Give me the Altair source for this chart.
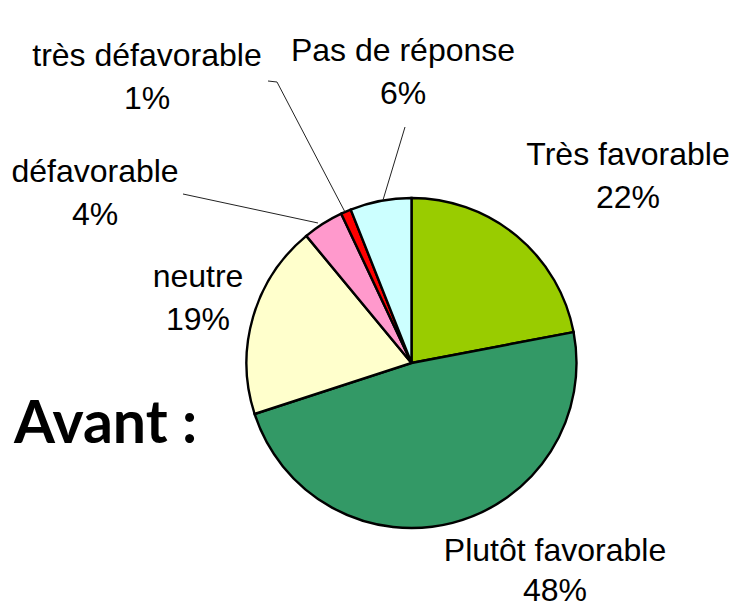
import altair as alt
import pandas as pd

# Data
categories = ["Très favorable", "Plutôt favorable", "neutre", "défavorable", "très défavorable", "Pas de réponse"]
values = [22, 48, 19, 4, 1, 6]
colors = ["#99CC00", "#339966", "#FFFFCC", "#FF99CC", "#FF0000", "#CCFFFF"]

# Layout (pixel positions of label anchors, chart coordinates)
label_x = [620, 547, 190, 87, 139, 395]
label_y = [157, 553, 279, 174, 58, 53]
line_height = [43, 40, 43, 43, 43, 43]

# Leader line polylines (chart coordinates)
leader_cat = ["très défavorable"] * 3 + ["Pas de réponse"] * 3 + ["défavorable"] * 2
leader_ord = [0, 1, 2, 0, 1, 2, 0, 1]
leader_x = [337, 269, 260, 375, 394, 397, 310, 175]
leader_y = [204, 74, 73, 192, 129, 119, 215, 186]

W, H = 721, 604
CX, CY, R = 403.5, 355, 165

pie_df = pd.DataFrame({
    "cat": categories,
    "val": values,
    "idx": list(range(len(categories))),
})

lab_df = pd.DataFrame({
    "cat": categories,
    "name": categories,
    "pct": [f"{v}%" for v in values],
    "lx": label_x,
    "ly": label_y,
    "ly2": [y + lh for y, lh in zip(label_y, line_height)],
})

lead_df = pd.DataFrame({
    "cat": leader_cat,
    "o": leader_ord,
    "x": leader_x,
    "y": leader_y,
})

pie = alt.Chart(pie_df).mark_arc(
    outerRadius=R, stroke="black", strokeWidth=2.4
).encode(
    theta=alt.Theta("val:Q", stack=True),
    order=alt.Order("idx:Q"),
    color=alt.Color("cat:N", scale=alt.Scale(domain=categories, range=colors), legend=None),
    x=alt.value(CX),
    y=alt.value(CY),
)

leaders = alt.Chart(lead_df).mark_line(color="#222222", strokeWidth=1).encode(
    x=alt.X("x:Q", scale=None, axis=None),
    y=alt.Y("y:Q", scale=None, axis=None),
    detail="cat:N",
    order="o:Q",
)

text_props = dict(font="Liberation Sans", fontSize=32, align="center",
                  baseline="alphabetic", color="black")

names = alt.Chart(lab_df).mark_text(**text_props).encode(
    x=alt.X("lx:Q", scale=None, axis=None),
    y=alt.Y("ly:Q", scale=None, axis=None),
    text="name:N",
)
pcts = alt.Chart(lab_df).mark_text(**text_props).encode(
    x=alt.X("lx:Q", scale=None, axis=None),
    y=alt.Y("ly2:Q", scale=None, axis=None),
    text="pct:N",
)

title_df = pd.DataFrame({"t": ["Avant :"]})
avant = alt.Chart(title_df).mark_text(
    font="Lato", fontSize=59, fontWeight="bold", align="left", baseline="alphabetic", color="black"
).encode(
    x=alt.value(6),
    y=alt.value(435),
    text="t:N",
)

chart = alt.layer(pie, leaders, names, pcts, avant).properties(
    width=W, height=H, autosize=alt.AutoSizeParams(type="none"), padding=0
).configure_view(stroke=None)

chart.save("out.html", embed_options={"renderer": "svg", "actions": False})
